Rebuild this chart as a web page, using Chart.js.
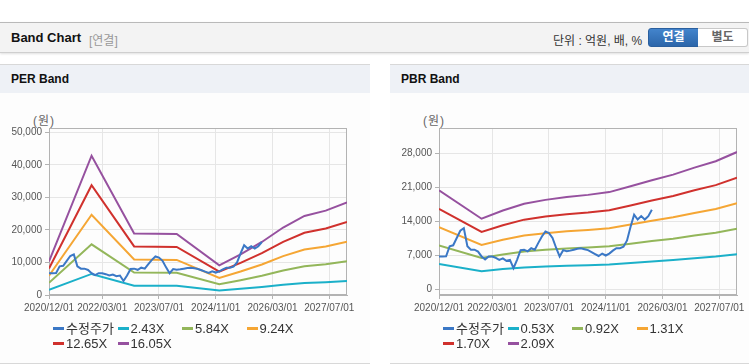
<!DOCTYPE html>
<html>
<head>
<meta charset="utf-8">
<script src="https://cdn.jsdelivr.net/npm/chart.js@4.4.1/dist/chart.umd.min.js"></script>
<style>
body { margin: 0; width: 749px; height: 364px; overflow: hidden; background: #fff; position: relative;
  font-family: "Liberation Sans", "Noto Sans CJK KR", sans-serif; color: #333; }
.abs { position: absolute; white-space: nowrap; }
.hdr { position: absolute; left: 0; top: 22px; width: 749px; height: 29px; background: #f3f3f3;
  border-top: 1px solid #b9b9b9; border-bottom: 1px solid #cfcfcf; box-shadow: 0 1px 2px rgba(0,0,0,0.12); }
.btn { position: absolute; top: 28px; height: 17px; line-height: 17px; width: 49px; text-align: center;
  font-size: 12px; font-weight: bold; }
.panel { position: absolute; top: 64px; height: 298px; border-top: 1px solid #d8d8d8; border-bottom: 1px solid #d8d8d8; background: #fdfdfd; }
.ptitle { position: absolute; left: 0; top: 0; right: 0; height: 28px; background: #eef1f6; }
.ptitle span { position: absolute; left: 11px; top: 7px; font-size: 12px; font-weight: bold; color: #111; }
.unit { font-size: 12px; color: #666; letter-spacing: 1px; }
.leg { position: absolute; font-size: 13px; color: #333; line-height: 14px; }
.leg i { display: inline-block; width: 11px; height: 3px; vertical-align: middle; margin-right: 2px; position: relative; top: -1px; }
canvas { position: absolute; }
</style>
</head>
<body>
<div class="hdr"></div>
<div class="abs" style="left:11px;top:30px;font-size:13px;font-weight:bold;color:#111;">Band Chart</div>
<div class="abs" style="left:89px;top:31px;font-size:12px;color:#999;">[연결]</div>
<div class="abs" style="left:553px;top:31px;font-size:12px;color:#333;">단위 : 억원, 배, %</div>
<div class="btn" style="left:648px;background:linear-gradient(#4384cc,#2c66aa);border:1px solid #2a5f9e;border-radius:3px 0 0 3px;color:#fff;">연결</div>
<div class="btn" style="left:698px;background:#fff;border:1px solid #c8c8c8;border-left:none;border-radius:0 3px 3px 0;color:#666;">별도</div>

<div class="panel" style="left:0;width:370px;"><div class="ptitle"><span>PER Band</span></div></div>
<div class="panel" style="left:390px;width:359px;"><div class="ptitle"><span>PBR Band</span></div></div>

<div class="abs unit" style="left:33px;top:111px;">(원)</div>
<div class="abs unit" style="left:423px;top:111px;">(원)</div>

<canvas id="perChart" width="370" height="222" style="left:0;top:100px;"></canvas>
<canvas id="pbrChart" width="359" height="222" style="left:390px;top:100px;"></canvas>
<div id="perLegend"></div>
<div id="pbrLegend"></div>

<script>
// x축: 2020/12/01 부터의 개월 수
var xTickMonths = [0, 15, 31, 47, 63, 79];
var xTickLabels = ['2020/12/01', '2022/03/01', '2023/07/01', '2024/11/01', '2026/03/01', '2027/07/01'];

// 수정주가 (월별, 2020/12 ~ 2025/12)
var priceMonths = [];
for (var m = 0; m <= 60; m++) priceMonths.push(m);
var price = [6700, 6700, 6750, 8800, 9000, 10500, 12000, 12500, 8800, 8100,
  8100, 7700, 6700, 6100, 6700, 6700, 6400, 6000, 6300, 5800,
  6000, 4300, 6000, 8000, 8100, 7750, 8400, 8100, 9500, 10800,
  11850, 11500, 10500, 8500, 6700, 8000, 7800, 7900, 8100, 8300,
  8400, 8200, 8000, 7600, 7200, 6800, 7300, 6900, 7300, 7900,
  8400, 8400, 8700, 10000, 12800, 15300, 14300, 15000, 14300, 15000, 16300];

// PER 밴드
var perLabels = ['수정주가', '2.43X', '5.84X', '9.24X', '12.65X', '16.05X'];
var perMonths = [0, 12, 24, 36, 48, 54, 60, 66, 72, 78, 84];
var per243 = [1560, 6480, 2870, 2840, 1380, 1900, 2470, 3140, 3680, 3930, 4310];
var per584 = [3760, 15590, 6890, 6830, 3310, 4560, 5930, 7550, 8840, 9440, 10370];
var per924 = [5950, 24660, 10900, 10800, 5240, 7210, 9380, 11950, 13990, 14940, 16410];
var per1265 = [8140, 33760, 14930, 14790, 7170, 9870, 12850, 16360, 19150, 20450, 22460];
var per1605 = [10330, 42830, 18940, 18760, 9100, 12520, 16300, 20750, 24300, 25950, 28500];
var perYTicks = [0, 10000, 20000, 30000, 40000, 50000];

// PBR 밴드
var pbrLabels = ['수정주가', '0.53X', '0.92X', '1.31X', '1.70X', '2.09X'];
var pbrMonths = [0, 12, 18, 24, 30, 36, 42, 48, 54, 60, 66, 72, 78, 84];
var pbr053 = [5150, 3670, 4100, 4450, 4650, 4810, 4910, 5060, 5360, 5680, 5970, 6340, 6670, 7150];
var pbr092 = [8940, 6370, 7110, 7730, 8080, 8340, 8530, 8780, 9310, 9860, 10370, 11010, 11580, 12410];
var pbr131 = [12720, 9070, 10120, 11000, 11500, 11880, 12150, 12500, 13260, 14040, 14760, 15670, 16480, 17680];
var pbr170 = [16510, 11770, 13140, 14280, 14930, 15410, 15760, 16230, 17200, 18220, 19160, 20340, 21390, 22940];
var pbr209 = [20300, 14470, 16150, 17550, 18350, 18950, 19380, 19950, 21150, 22400, 23550, 25000, 26300, 28200];
var pbrYTicks = [0, 7000, 14000, 21000, 28000];

var colors = ['#3b78c6', '#1bb0c9', '#93b65a', '#f5a634', '#d0312d', '#96519f'];

function pts(xs, ys) {
  return ys.map(function (v, i) { return { x: xs[i], y: v }; });
}

var axisFont = { family: "'Liberation Sans', sans-serif", size: 10 };

// 차트 영역 테두리 (위, 오른쪽)
var framePlugin = {
  id: 'frame',
  beforeDatasetsDraw: function (chart) {
    var a = chart.chartArea, ctx = chart.ctx;
    ctx.save();
    ctx.strokeStyle = '#b3b3b3';
    ctx.lineWidth = 1;
    ctx.strokeRect(Math.round(a.left) + 0.5, Math.round(a.top) + 0.5,
      Math.round(a.right - a.left) - 1, Math.round(a.bottom - a.top) - 1);
    ctx.restore();
  }
};

function makeChart(id, labels, series, yMin, yMax, yTicks, padRight) {
  var datasets = series.map(function (s, i) {
    return {
      label: labels[i],
      data: s,
      borderColor: colors[i],
      backgroundColor: colors[i],
      borderWidth: 2,
      pointRadius: 0,
      tension: 0,
      fill: false
    };
  });
  return new Chart(document.getElementById(id), {
    type: 'line',
    data: { datasets: datasets },
    plugins: [framePlugin],
    options: {
      responsive: false,
      animation: false,
      layout: { padding: { top: 28, right: padRight, left: 0, bottom: 0 } },
      plugins: { legend: { display: false }, tooltip: { enabled: false } },
      scales: {
        x: {
          type: 'linear',
          min: 0,
          max: 84,
          afterBuildTicks: function (scale) {
            scale.ticks = xTickMonths.map(function (v) { return { value: v }; });
          },
          afterFit: function (scale) { scale.height = 27; },
          ticks: {
            autoSkip: false, maxRotation: 0, padding: 3, color: '#555', font: axisFont,
            callback: function (v, i) { return xTickLabels[i]; }
          },
          grid: { color: '#e6e6e6', tickLength: 4, tickColor: '#b3b3b3' },
          border: { color: '#b3b3b3' }
        },
        y: {
          min: yMin,
          max: yMax,
          afterBuildTicks: function (scale) {
            scale.ticks = yTicks.map(function (v) { return { value: v }; });
          },
          afterFit: function (scale) { scale.width = 49; },
          ticks: {
            padding: 3, color: '#555', font: axisFont,
            callback: function (v) { return v.toLocaleString('en-US'); }
          },
          grid: { color: '#e6e6e6', tickLength: 4, tickColor: '#b3b3b3' },
          border: { color: '#b3b3b3' }
        }
      }
    }
  });
}

var perChart = makeChart('perChart', perLabels, [
  pts(priceMonths, price),
  pts(perMonths, per243),
  pts(perMonths, per584),
  pts(perMonths, per924),
  pts(perMonths, per1265),
  pts(perMonths, per1605)
], 0, 51350, perYTicks, 23);

var pbrChart = makeChart('pbrChart', pbrLabels, [
  pts(priceMonths, price),
  pts(pbrMonths, pbr053),
  pts(pbrMonths, pbr092),
  pts(pbrMonths, pbr131),
  pts(pbrMonths, pbr170),
  pts(pbrMonths, pbr209)
], -1235, 33150, pbrYTicks, 12);

// 범례 (4열 고정 간격)
function buildLegend(el, chart, left) {
  var html = '';
  chart.data.datasets.forEach(function (ds, i) {
    var x = left + (i % 4) * 64.5;
    var y = 322 + Math.floor(i / 4) * 15;
    html += '<div class="leg" style="left:' + x + 'px;top:' + y + 'px;"><i style="background:' +
      ds.borderColor + '"></i>' + ds.label + '</div>';
  });
  document.getElementById(el).innerHTML = html;
}
buildLegend('perLegend', perChart, 53);
buildLegend('pbrLegend', pbrChart, 443);
</script>
</body>
</html>
